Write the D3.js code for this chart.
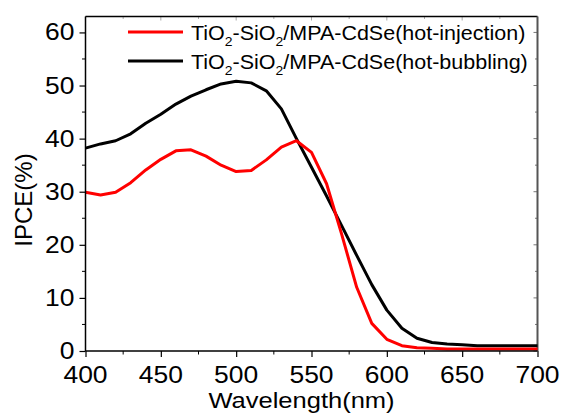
<!DOCTYPE html>
<meta charset="utf-8">
<style>
    body { margin: 0; background: #fff; }
    text { font-family: Arial, "Liberation Sans", sans-serif; fill: #000; }
</style>
<svg width="561" height="419"></svg>
<script src="https://cdn.jsdelivr.net/npm/d3@7/dist/d3.min.js"></script>
<script>

    // wavelength (nm) and IPCE (%)
    var wavelength = [400, 410, 420, 430, 440, 450, 460, 470, 480, 490, 500, 510, 520, 530, 540, 550, 560, 570, 580, 590, 600, 610, 620, 630, 640, 650, 660, 670, 680, 690, 700];
    var hotInjection = [29.9, 29.4, 29.9, 31.7, 34.1, 36.1, 37.7, 37.9, 36.7, 35.0, 33.8, 34.0, 36.0, 38.4, 39.6, 37.4, 31.5, 22.0, 12.0, 5.2, 2.2, 1.0, 0.6, 0.5, 0.4, 0.4, 0.4, 0.4, 0.4, 0.4, 0.4];
    var hotBubbling = [38.2, 39.0, 39.6, 40.9, 42.9, 44.6, 46.5, 48.0, 49.2, 50.3, 50.8, 50.5, 49.0, 45.6, 40.0, 34.6, 29.2, 23.6, 18.0, 12.5, 7.7, 4.3, 2.4, 1.6, 1.3, 1.2, 1.0, 1.0, 1.0, 1.0, 1.0];
    var xTicks = [400, 450, 500, 550, 600, 650, 700];
    var yTicks = [0, 10, 20, 30, 40, 50, 60];
    var seriesNames = ["hot-injection", "hot-bubbling"];
    var seriesColors = ["#ff0000", "#000000"];

    var svg = d3.select("svg");
    var m = { left: 85.5, right: 537.5, top: 16.5, bottom: 351 };

    var x = d3.scaleLinear().domain([400, 700]).range([m.left, m.right]);
    var y = d3.scaleLinear().domain([0, 63]).range([m.bottom, m.top]);

    // text that is a little wider than plain Arial, like the original export
    function label(px, py, str, size, sx, anchor) {
        return svg.append("text")
            .attr("transform", "translate(" + px + "," + py + ") scale(" + sx + ",1)")
            .attr("text-anchor", anchor)
            .style("font-size", size + "px")
            .text(str);
    }

    // minor ticks on top and right (inward)
    var xMinor = d3.range(400, 701, 25);
    var yMinor = d3.range(0, 61, 5);
    svg.append("g").selectAll("line").data(xMinor).enter().append("line")
        .attr("x1", function(d) { return x(d); }).attr("x2", function(d) { return x(d); })
        .attr("y1", m.top).attr("y2", function(d) { return m.top + (d % 50 === 0 ? 4 : 2.5); })
        .attr("stroke", "#aaa");
    svg.append("g").selectAll("line").data(yMinor).enter().append("line")
        .attr("y1", function(d) { return y(d); }).attr("y2", function(d) { return y(d); })
        .attr("x1", m.right).attr("x2", function(d) { return m.right - (d % 10 === 0 ? 4 : 2.5); })
        .attr("stroke", "#777");

    // bottom axis (ticks only, labels drawn below)
    var gx = svg.append("g").attr("transform", "translate(0," + m.bottom + ")")
        .call(d3.axisBottom(x).tickValues(xTicks).tickSize(6).tickFormat(""));
    gx.append("g").selectAll("line").data(xMinor.filter(function(d) { return d % 50 !== 0; }))
        .enter().append("line")
        .attr("x1", function(d) { return x(d); }).attr("x2", function(d) { return x(d); })
        .attr("y1", 0).attr("y2", 3.5).attr("stroke", "#000");

    // left axis
    var gy = svg.append("g").attr("transform", "translate(" + m.left + ",0)")
        .call(d3.axisLeft(y).tickValues(yTicks).tickSize(6).tickFormat(""));
    gy.append("g").selectAll("line").data(yMinor.filter(function(d) { return d % 10 !== 0; }))
        .enter().append("line")
        .attr("y1", function(d) { return y(d); }).attr("y2", function(d) { return y(d); })
        .attr("x1", 0).attr("x2", -3.5).attr("stroke", "#000");

    gx.select(".domain").remove();
    gy.select(".domain").remove();
    gx.selectAll(".tick line").attr("stroke-width", 1.2);
    gy.selectAll(".tick line").attr("stroke-width", 1.2);

    xTicks.forEach(function(d) { label(x(d), 383, d, 23, 1.15, "middle"); });
    yTicks.forEach(function(d) { label(m.left - 11, y(d) + 8, d, 23, 1.15, "end"); });

    // frame
    svg.append("line").attr("x1", m.left).attr("x2", m.right).attr("y1", m.top).attr("y2", m.top)
        .attr("stroke", "#000").attr("stroke-width", 1.5);
    svg.append("line").attr("x1", m.right).attr("x2", m.right).attr("y1", m.top).attr("y2", m.bottom)
        .attr("stroke", "#555").attr("stroke-width", 2);

    // lines
    var line = d3.line()
        .x(function(d) { return x(d[0]); })
        .y(function(d) { return y(d[1]); });

    [[hotBubbling, seriesColors[1]], [hotInjection, seriesColors[0]]].forEach(function(s) {
        svg.append("path")
            .datum(wavelength.map(function(w, j) { return [w, s[0][j]]; }))
            .attr("fill", "none")
            .attr("stroke", s[1])
            .attr("stroke-width", 3)
            .attr("stroke-linejoin", "round")
            .attr("d", line);
    });

    svg.append("line").attr("x1", m.left).attr("x2", m.right).attr("y1", m.bottom).attr("y2", m.bottom)
        .attr("stroke", "#000").attr("stroke-width", 1.5);
    svg.append("line").attr("x1", m.left).attr("x2", m.left).attr("y1", m.top).attr("y2", m.bottom)
        .attr("stroke", "#000").attr("stroke-width", 1.5);

    // axis titles
    label(301.5, 408, "Wavelength(nm)", 22, 1.16, "middle");
    svg.append("text").attr("transform", "translate(32,200) rotate(-90)")
        .attr("text-anchor", "middle").style("font-size", "24px").text("IPCE(%)");

    // legend
    seriesNames.forEach(function(name, i) {
        var ly = 32 + i * 29;
        svg.append("line").attr("x1", 128).attr("x2", 183).attr("y1", ly).attr("y2", ly)
            .attr("stroke", seriesColors[i]).attr("stroke-width", 3);
        var t = label(191, ly + 7.5, "", 20, 1.075, "start");
        t.append("tspan").text("TiO");
        t.append("tspan").attr("dy", 6).style("font-size", "13px").text("2");
        t.append("tspan").attr("dy", -6).text("-SiO");
        t.append("tspan").attr("dy", 6).style("font-size", "13px").text("2");
        t.append("tspan").attr("dy", -6).text("/MPA-CdSe(" + name + ")");
    });

</script>
